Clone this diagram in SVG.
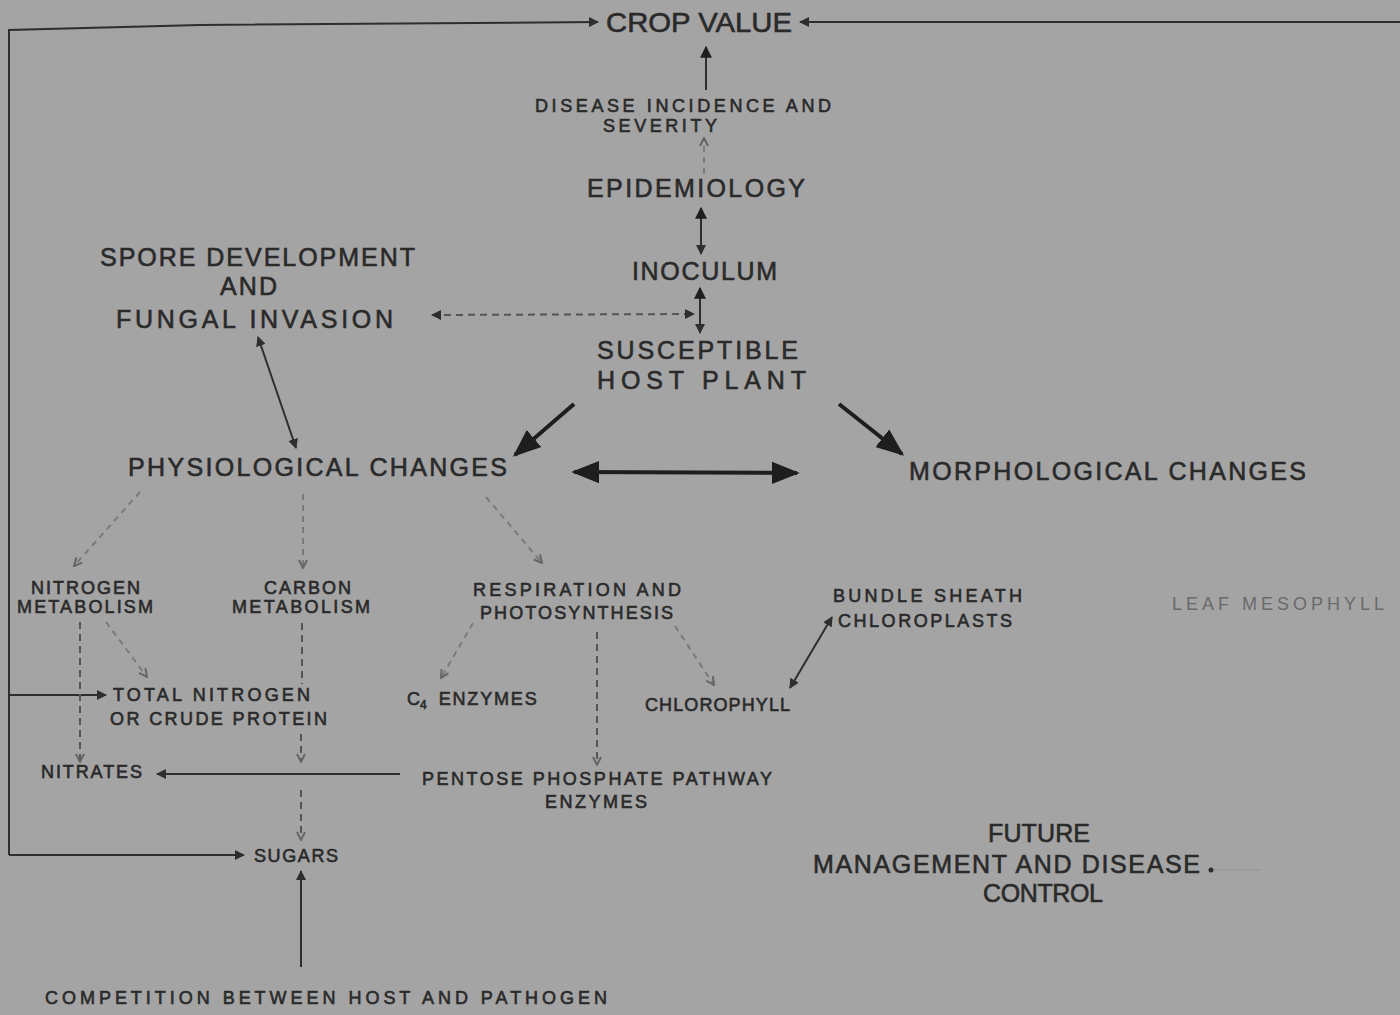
<svg xmlns="http://www.w3.org/2000/svg" width="1400" height="1015" viewBox="0 0 1400 1015">
<style>
text{font-family:"Liberation Sans",Arial,sans-serif;fill:#2a2a2a;stroke:#2a2a2a;stroke-width:0.6px;}
.big{font-size:25px;}
.mid{font-size:18px;}
.sm{font-size:18px;}
.faint{fill:#6a6a6a;stroke:none;}
.ln{stroke:#2e2e2e;stroke-width:2;fill:none;}
.thick{stroke:#1e1e1e;stroke-width:4;fill:none;}
.dash{stroke:#555;stroke-width:2;stroke-dasharray:7 5;fill:none;}
.fdash{stroke:#7a7a7a;stroke-width:2;stroke-dasharray:6 5;fill:none;}
</style>
<defs>
<marker id="ah" viewBox="0 0 10 10" refX="9" refY="5" markerWidth="5" markerHeight="5" orient="auto-start-reverse"><path d="M0,0 L10,5 L0,10 z" fill="#2e2e2e"/></marker>
<marker id="ahB" viewBox="0 0 10 10" refX="9" refY="5" markerWidth="6" markerHeight="6" orient="auto-start-reverse"><path d="M0,0 L10,5 L0,10 z" fill="#1e1e1e"/></marker>
<marker id="ahT" viewBox="0 0 10 10" refX="9" refY="5" markerWidth="7" markerHeight="7" orient="auto-start-reverse"><path d="M0,1 L10,5 L0,9 z" fill="#1e1e1e"/></marker>
<marker id="ahO" viewBox="0 0 10 10" refX="9" refY="5" markerWidth="5" markerHeight="5" orient="auto-start-reverse"><path d="M1,1 L9,5 L1,9" fill="none" stroke="#666" stroke-width="2"/></marker>
</defs>
<rect width="1400" height="1015" fill="#a4a4a4"/>

<g id="connectors">
  <polyline class="ln" points="9,855 9,30 200,25 598,22" marker-end="url(#ah)"/>
  <line class="ln" x1="9" y1="855" x2="244" y2="855" marker-end="url(#ah)"/>
  <line class="ln" x1="9" y1="695" x2="106" y2="695" marker-end="url(#ah)"/>
  <line class="ln" x1="1400" y1="22" x2="800" y2="22" stroke="#555" marker-end="url(#ah)"/>
  <line class="ln" x1="706" y1="90" x2="706" y2="47" stroke-width="3" marker-end="url(#ahB)"/>
  <line class="fdash" x1="704" y1="174" x2="704" y2="138" marker-end="url(#ahO)"/>
  <line class="ln" x1="701" y1="254" x2="701" y2="208" stroke-width="3" marker-start="url(#ah)" marker-end="url(#ahB)"/>
  <line class="ln" x1="700" y1="333" x2="700" y2="288" stroke-width="3" marker-start="url(#ah)" marker-end="url(#ahB)"/>
  <line class="dash" x1="432" y1="315" x2="694" y2="314" marker-start="url(#ah)" marker-end="url(#ah)"/>
  <line class="ln" x1="258" y1="337" x2="296" y2="448" marker-start="url(#ah)" marker-end="url(#ah)"/>
  <line class="thick" stroke-width="3" x1="574" y1="404" x2="515" y2="455" marker-end="url(#ahT)"/>
  <line class="thick" stroke-width="3" x1="839" y1="404" x2="902" y2="454" marker-end="url(#ahT)"/>
  <line class="thick" stroke-width="5" x1="574" y1="472" x2="797" y2="473" marker-start="url(#ahT)" marker-end="url(#ahT)"/>
  <line class="fdash" x1="140" y1="492" x2="74" y2="566" marker-end="url(#ahO)"/>
  <line class="fdash" x1="303" y1="494" x2="303" y2="568" marker-end="url(#ahO)"/>
  <line class="fdash" x1="486" y1="497" x2="542" y2="563" marker-end="url(#ahO)"/>
  <line class="dash" x1="80" y1="622" x2="80" y2="762" marker-end="url(#ahO)"/>
  <line class="fdash" x1="106" y1="622" x2="147" y2="677" marker-end="url(#ahO)"/>
  <line class="dash" x1="302" y1="623" x2="302" y2="684"/>
  <line class="dash" x1="301" y1="734" x2="301" y2="762" marker-end="url(#ahO)"/>
  <line class="dash" x1="301" y1="790" x2="301" y2="840" marker-end="url(#ahO)"/>
  <line class="fdash" x1="473" y1="623" x2="441" y2="678" marker-end="url(#ahO)"/>
  <line class="dash" x1="597" y1="632" x2="597" y2="765" marker-end="url(#ahO)"/>
  <line class="fdash" x1="675" y1="626" x2="714" y2="685" marker-end="url(#ahO)"/>
  <line class="ln" stroke="#444" x1="790" y1="688" x2="832" y2="617" marker-start="url(#ah)" marker-end="url(#ah)"/>
  <line class="ln" x1="400" y1="774" x2="157" y2="774" marker-end="url(#ah)"/>
  <line class="ln" stroke-width="3" x1="301" y1="967" x2="301" y2="871" marker-end="url(#ah)"/>
  <circle cx="1211" cy="870" r="2.5" fill="#2e2e2e"/>
  <line x1="1214" y1="870" x2="1260" y2="870" stroke="#999" stroke-width="1.5"/>
</g>

<g id="crop-value"><text x="606" y="32" font-size="28" textLength="186" lengthAdjust="spacingAndGlyphs">CROP VALUE</text></g>
<g id="disease"><text class="mid" x="535" y="112" textLength="296" lengthAdjust="spacing">DISEASE INCIDENCE AND</text><text class="mid" x="603" y="132" textLength="114" lengthAdjust="spacing">SEVERITY</text></g>
<g id="epidemiology"><text class="big" x="587" y="197" textLength="218" lengthAdjust="spacing">EPIDEMIOLOGY</text></g>
<g id="inoculum"><text class="big" x="632" y="280" textLength="145" lengthAdjust="spacing">INOCULUM</text></g>
<g id="susceptible"><text class="big" x="597" y="359" textLength="201" lengthAdjust="spacing">SUSCEPTIBLE</text><text class="big" x="597" y="389" textLength="209" lengthAdjust="spacing">HOST    PLANT</text></g>
<g id="spore"><text class="big" x="100" y="266" textLength="315" lengthAdjust="spacing">SPORE  DEVELOPMENT</text><text class="big" x="220" y="295" textLength="57" lengthAdjust="spacing">AND</text><text class="big" x="116" y="328" textLength="277" lengthAdjust="spacing">FUNGAL  INVASION</text></g>
<g id="physiological"><text class="big" x="128" y="476" textLength="379" lengthAdjust="spacing">PHYSIOLOGICAL  CHANGES</text></g>
<g id="morphological"><text class="big" x="909" y="480" textLength="397" lengthAdjust="spacing">MORPHOLOGICAL  CHANGES</text></g>
<g id="nitrogen-metabolism"><text class="sm" x="31" y="594" textLength="109" lengthAdjust="spacing">NITROGEN</text><text class="sm" x="17" y="613" textLength="136" lengthAdjust="spacing">METABOLISM</text></g>
<g id="carbon-metabolism"><text class="sm" x="264" y="594" textLength="87" lengthAdjust="spacing">CARBON</text><text class="sm" x="232" y="613" textLength="138" lengthAdjust="spacing">METABOLISM</text></g>
<g id="respiration"><text class="sm" x="473" y="596" textLength="208" lengthAdjust="spacing">RESPIRATION  AND</text><text class="sm" x="480" y="619" textLength="193" lengthAdjust="spacing">PHOTOSYNTHESIS</text></g>
<g id="bundle-sheath"><text class="sm" x="833" y="602" textLength="189" lengthAdjust="spacing">BUNDLE  SHEATH</text><text class="sm" x="838" y="627" textLength="174" lengthAdjust="spacing">CHLOROPLASTS</text></g>
<g id="leaf-mesophyll"><text class="sm faint" x="1172" y="610" textLength="212" lengthAdjust="spacing">LEAF  MESOPHYLL</text></g>
<g id="total-nitrogen"><text class="sm" x="113" y="701" textLength="197" lengthAdjust="spacing">TOTAL  NITROGEN</text><text class="sm" x="110" y="725" textLength="217" lengthAdjust="spacing">OR CRUDE  PROTEIN</text></g>
<g id="c4-enzymes"><text class="sm" x="407" y="705" fill="#444">C<tspan font-size="12" dy="4">4</tspan><tspan dy="-4" dx="12" textLength="98" lengthAdjust="spacing">ENZYMES</tspan></text></g>
<g id="chlorophyll"><text class="sm" x="645" y="711" textLength="145" lengthAdjust="spacing">CHLOROPHYLL</text></g>
<g id="nitrates"><text class="sm" x="41" y="778" textLength="101" lengthAdjust="spacing">NITRATES</text></g>
<g id="pentose"><text class="sm" x="422" y="785" textLength="350" lengthAdjust="spacing">PENTOSE  PHOSPHATE  PATHWAY</text><text class="sm" x="545" y="808" textLength="102" lengthAdjust="spacing">ENZYMES</text></g>
<g id="sugars"><text class="sm" x="254" y="862" textLength="84" lengthAdjust="spacing">SUGARS</text></g>
<g id="competition"><text class="sm" x="45" y="1004" textLength="562" lengthAdjust="spacing">COMPETITION   BETWEEN   HOST   AND   PATHOGEN</text></g>
<g id="future"><text class="big" x="988" y="842" textLength="102" lengthAdjust="spacing">FUTURE</text><text class="big" x="813" y="873" textLength="387" lengthAdjust="spacing">MANAGEMENT AND DISEASE</text><text class="big" x="983" y="902" textLength="120" lengthAdjust="spacing">CONTROL</text></g>
</svg>
